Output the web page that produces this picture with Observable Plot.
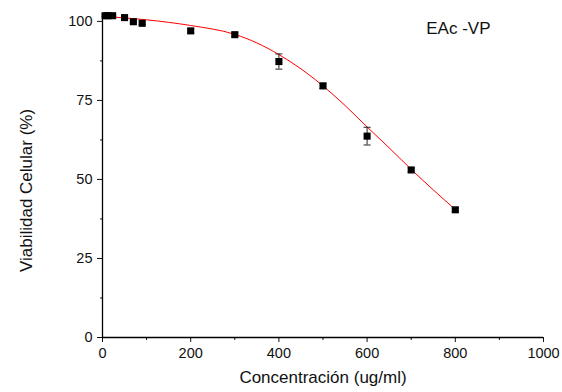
<!DOCTYPE html>
<html>
<head>
<meta charset="utf-8">
<script src="https://cdn.jsdelivr.net/npm/d3@7"></script>
<script src="https://cdn.jsdelivr.net/npm/@observablehq/plot@0.6"></script>
<style>
  html, body { margin: 0; padding: 0; background: #fff; }
  #chart svg { display: block; }
</style>
</head>
<body>
<div id="chart"></div>
<script>
// Measured cell viability (%) per concentration (ug/ml), with standard error
const concentration = [6, 12, 23, 50, 70, 90, 200, 300, 400, 500, 600, 700, 800];
const viability     = [101.8, 101.8, 101.8, 101.2, 99.9, 99.4, 97.0, 95.8, 87.3, 79.6, 63.7, 53.0, 40.4];
const errorBar      = [0.3, 0.3, 0.3, 0.4, 0.4, 0.4, 0.6, 0.6, 2.4, 0.8, 2.8, 0.7, 0.6];

// Fitted dose-response curve, sampled along its length
const fitX = [0, 100, 200, 300, 350, 400, 450, 500, 550, 600, 650, 700, 750, 800];
const fitY = [101.6, 100.5, 98.7, 95.9, 93.2, 89.5, 85.0, 79.6, 73.4, 66.6, 60.0, 53.2, 46.7, 40.5];

const xMajor = [0, 200, 400, 600, 800, 1000];
const xMinor = [100, 300, 500, 700, 900];
const yMajor = [0, 25, 50, 75, 100];
const yMinor = [12.5, 37.5, 62.5, 87.5];

const points = concentration.map((c, i) => ({c, v: viability[i], e: errorBar[i]}));
const fit = fitX.map((c, i) => ({c, v: fitY[i]}));

// Short horizontal stroke used as an error-bar cap
const capSymbol = {
  draw(context, size) {
    const w = 3.5;
    context.moveTo(-w, 0);
    context.lineTo(w, 0);
  }
};

const font = "Liberation Sans, Arial, Helvetica, sans-serif";

const chart = Plot.plot({
  width: 562,
  height: 392,
  marginLeft: 102,
  marginRight: 19,
  marginTop: 13,
  marginBottom: 55,
  style: {fontFamily: font, fontSize: "14.5px", color: "#111", background: "#fff"},
  x: {domain: [0, 1000]},
  y: {domain: [0, 102.5]},
  marks: [
    Plot.axisX({ticks: xMajor, tickSize: 5, tickPadding: 5, tickFormat: d => String(d), label: null, fontSize: 14.5}),
    Plot.axisX({ticks: xMinor, tickSize: 3, tickFormat: () => "", label: null}),
    Plot.axisY({ticks: yMajor, tickSize: 5, tickPadding: 5, tickFormat: d => String(d), label: null, fontSize: 14.5}),
    Plot.axisY({ticks: yMinor, tickSize: 2, tickFormat: () => "", label: null}),
    Plot.ruleX([0], {stroke: "#000", strokeWidth: 1.3}),
    Plot.ruleY([0], {stroke: "#000", strokeWidth: 1.3}),
    Plot.line(fit, {x: "c", y: "v", stroke: "#ff0000", strokeWidth: 1, curve: "monotone-x"}),
    Plot.ruleX(points, {x: "c", y1: d => d.v - d.e, y2: d => d.v + d.e, stroke: "#222", strokeWidth: 1}),
    Plot.dot(points, {x: "c", y: d => d.v + d.e, symbol: capSymbol, r: 3.5, stroke: "#222", strokeWidth: 1, fill: "none"}),
    Plot.dot(points, {x: "c", y: d => d.v - d.e, symbol: capSymbol, r: 3.5, stroke: "#222", strokeWidth: 1, fill: "none"}),
    Plot.dot(points, {x: "c", y: "v", symbol: "square", r: 4, fill: "#000", stroke: "none"}),
    Plot.text(["Concentración (ug/ml)"], {frameAnchor: "bottom", textAnchor: "middle", dy: 45, fontSize: 17, fill: "#111"}),
    Plot.text(["Viabilidad Celular (%)"], {frameAnchor: "left", textAnchor: "middle", dx: -75.5, dy: 15, rotate: -90, fontSize: 17, fill: "#111"}),
    Plot.text(["EAc -VP"], {frameAnchor: "top-right", textAnchor: "end", dx: -53, dy: 8.9, fontSize: 17, fill: "#111"})
  ]
});

document.getElementById("chart").append(chart);
</script>
</body>
</html>
